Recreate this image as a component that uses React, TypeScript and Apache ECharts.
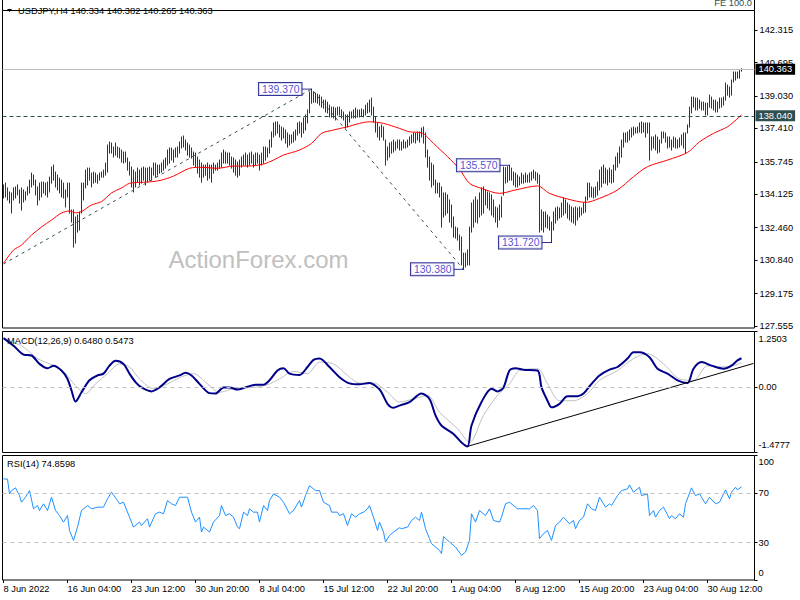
import React, { useEffect, useRef } from "react";
import * as echarts from "echarts";

// ---------- data ----------
const titleText = "USDJPY,H4 140.334 140.382 140.265 140.363";
const feText = "FE 100.0";
const watermarkText = "ActionForex.com";
const macdTitle = "MACD(12,26,9) 0.6480 0.5473";
const rsiTitle = "RSI(14) 74.8598";

const dateLabels = [
  "8 Jun 2022", "16 Jun 04:00", "23 Jun 12:00", "30 Jun 20:00", "8 Jul 04:00", "15 Jul 12:00",
  "22 Jul 20:00", "1 Aug 04:00", "8 Aug 12:00", "15 Aug 20:00", "23 Aug 04:00", "30 Aug 12:00",
];
const barsPerLabel = 32;
const emptyBarsRight = 6;

const priceTicks = [127.555, 129.175, 130.84, 132.46, 134.125, 135.745, 137.41, 139.03, 140.695, 142.315];
const priceMin = 127.455;
const priceMax = 143.29;

const highs = [
  134.59,134.68,134.44,134.24,134.19,134.44,134.49,134.59,134.34,134.44,
  134.34,134.24,134.49,134.83,135.18,135.08,134.83,134.49,134.68,134.73,
  134.73,134.68,134.73,134.98,135.48,135.58,135.23,135.08,134.93,134.83,
  134.68,134.34,134.68,134.68,133.34,133.34,132.99,133.09,133.24,134.68,
  134.68,135.33,135.43,135.43,135.18,135.23,135.18,135.08,135.18,135.23,
  135.33,135.68,136.58,136.73,136.68,136.48,136.68,136.48,136.43,136.33,
  136.23,136.23,135.93,135.73,135.48,135.33,135.23,135.43,135.33,135.43,
  135.48,135.43,135.43,135.48,135.43,135.68,135.68,135.58,135.58,135.68,
  135.83,135.93,136.33,136.43,136.43,136.33,136.43,136.48,136.73,136.98,
  137.03,136.83,136.68,136.58,136.43,136.23,136.18,135.98,135.83,135.68,
  135.58,135.58,135.68,135.58,135.58,135.68,135.58,135.68,135.83,136.18,
  136.33,136.23,136.18,136.18,135.98,135.93,135.83,135.73,135.83,135.98,
  136.08,136.18,136.08,136.18,136.23,136.08,136.18,136.18,136.08,136.18,
  136.48,136.48,136.43,136.83,137.23,137.68,137.73,137.73,137.58,137.48,
  137.43,137.33,137.18,137.08,137.08,137.23,137.33,137.68,137.73,137.68,
  137.93,138.08,138.33,139.22,139.37,139.22,139.17,139.12,139.07,138.97,
  138.82,138.82,138.72,138.57,138.47,138.47,138.42,138.47,138.47,138.33,
  138.23,138.08,138.08,138.23,138.23,138.33,138.42,138.33,138.33,138.38,
  138.33,138.57,138.67,138.82,138.92,138.47,137.98,137.68,137.48,137.58,
  137.48,136.83,136.48,136.68,136.73,136.83,136.73,136.83,136.83,136.73,
  136.83,136.73,136.83,136.98,137.08,137.18,137.18,137.23,137.23,137.43,
  137.48,137.18,136.33,135.98,135.68,135.58,134.83,134.68,134.68,134.49,
  134.19,134.19,134.09,133.84,133.59,132.99,132.49,132.44,132.09,131.99,
  131.19,131.19,131.34,132.49,133.69,133.84,133.99,133.84,134.19,134.44,
  134.49,134.34,134.24,134.19,134.09,133.84,133.49,133.44,133.59,133.99,
  135.48,135.45,135.5,135.57,135.43,135.23,135.18,135.08,134.98,135.18,
  135.08,135.18,135.08,135.18,135.23,135.33,135.23,135.18,135.08,133.34,
  133.24,133.24,133.09,132.99,132.74,133.24,133.44,133.49,133.44,133.69,
  133.94,133.84,133.69,133.59,133.49,133.44,133.49,133.44,133.49,133.44,
  133.69,133.99,134.68,134.68,134.49,134.44,134.49,134.73,135.33,135.48,
  135.58,135.43,135.33,135.43,135.33,135.58,135.98,136.18,136.48,136.83,
  137.18,137.18,137.23,137.33,137.43,137.48,137.43,137.48,137.68,137.73,
  137.68,137.68,137.68,137.68,136.98,136.98,137.08,136.98,136.83,137.23,
  137.23,137.18,136.98,136.98,136.83,136.98,136.93,136.83,136.93,137.08,
  137.18,137.18,137.58,138.47,138.97,138.97,138.92,138.92,138.82,138.72,
  138.72,138.67,138.67,139.07,138.97,138.82,138.82,138.72,138.92,138.92,
  138.97,139.67,139.57,139.47,139.82,140.22,140.22,140.22,140.32,140.382,
];
const lows = [
  133.94,133.99,133.84,133.69,133.19,133.84,133.94,134.09,133.69,133.34,
  133.74,133.84,134.09,134.19,134.49,134.59,134.09,133.59,133.84,133.99,
  134.19,134.09,133.99,134.24,134.68,134.83,134.49,134.34,134.19,133.99,
  133.94,133.49,133.99,133.19,132.74,131.49,131.69,132.24,132.34,133.19,
  133.84,134.44,134.59,134.83,134.49,134.68,134.73,134.68,134.83,134.98,
  134.98,135.08,135.23,136.18,136.18,135.98,136.08,135.98,135.93,135.73,
  135.68,135.73,135.33,135.08,134.49,134.24,134.49,134.73,134.59,134.68,
  134.83,134.59,134.73,134.83,134.83,135.08,134.98,135.08,135.18,135.23,
  135.33,135.43,135.58,135.68,135.83,135.73,135.98,135.98,136.18,136.43,
  136.48,136.33,136.08,135.98,135.93,135.58,135.48,135.18,134.98,134.73,
  134.98,135.08,134.83,134.93,134.73,135.18,135.33,135.33,135.43,135.48,
  135.68,135.68,135.68,135.58,135.43,135.23,135.08,134.98,135.08,135.48,
  135.58,135.58,135.48,135.58,135.68,135.48,135.58,135.68,135.33,135.58,
  135.68,135.83,135.98,136.18,136.48,136.98,137.08,137.18,136.98,136.83,
  136.93,136.68,136.48,136.58,136.68,136.73,136.83,137.08,137.18,136.98,
  137.18,137.33,137.68,138.18,138.67,138.72,138.72,138.67,138.57,138.47,
  138.42,138.23,138.18,137.98,137.98,137.93,137.83,138.08,138.08,137.93,
  137.83,137.43,137.48,137.73,137.93,137.93,137.93,137.98,137.98,138.03,
  137.98,138.08,138.18,138.23,138.08,137.73,137.23,136.98,136.83,136.98,
  136.83,135.58,135.83,135.98,136.18,136.23,136.33,136.43,136.33,136.33,
  136.43,136.43,136.48,136.58,136.68,136.73,136.68,136.83,136.73,136.98,
  136.68,135.98,135.48,134.83,134.49,134.59,134.19,134.19,133.99,132.49,
  132.99,133.09,133.19,132.74,132.49,131.99,131.94,131.84,131.34,130.6,
  130.38,130.5,130.6,130.6,132.24,132.49,132.74,132.69,132.99,133.09,
  133.19,133.59,133.44,133.34,133.09,132.99,132.74,132.49,132.84,132.99,
  134.09,134.68,134.73,134.83,134.83,134.59,134.49,134.49,134.59,134.68,
  134.68,134.73,134.73,134.73,134.83,134.93,134.83,134.68,132.24,132.34,
  132.24,132.49,132.44,132.34,131.72,132.34,132.69,132.84,132.94,132.99,
  133.09,133.19,132.94,132.84,132.74,132.69,132.59,132.84,132.99,133.09,
  133.19,133.24,133.84,133.99,133.99,133.94,133.99,134.09,134.34,134.49,
  134.68,134.68,134.59,134.73,134.68,134.73,135.33,135.48,135.68,135.98,
  136.48,136.73,136.73,136.83,136.98,137.08,137.18,137.18,137.23,137.18,
  137.23,136.98,137.18,135.83,136.33,136.43,136.33,136.18,136.23,136.68,
  136.93,136.73,136.43,136.48,136.33,136.48,136.43,136.43,136.48,136.58,
  136.43,136.18,137.18,137.48,138.18,138.47,138.33,138.33,138.42,138.33,
  138.33,138.08,138.08,138.47,138.42,138.33,138.23,138.23,138.42,138.47,
  138.57,138.82,139.07,138.97,139.07,139.72,139.82,139.92,139.92,140.265,
];

const maIndex = [0,5,9,14,19,24,29,33,36,39,44,49,54,59,63,69,74,79,85,93,99,107,115,122,130,135,140,148,154,159,165,172,178,183,190,198,203,209,215,222,228,233,239,248,256,267,273,282,291,298,307,315,322,332,342,348,355,362,369];
const maValue = [130.68,131.34,131.59,132.09,132.49,132.84,133.19,133.29,133.2,133.26,133.59,133.76,134.19,134.44,134.67,134.72,134.75,134.83,135.03,135.42,135.47,135.42,135.53,135.53,135.63,135.83,136.08,136.33,136.66,137.16,137.33,137.49,137.66,137.74,137.66,137.41,137.24,137.19,136.66,136.0,135.38,134.67,134.42,134.17,134.34,134.54,134.17,133.89,133.72,133.92,134.34,135.0,135.5,135.83,136.21,136.74,137.16,137.49,138.08];

const currentPrice = 140.363;
const levelPrice = 138.04;

const pivotIndex = [154, 253, 274, 230];
const pivotValue = [139.37, 135.57, 131.72, 130.38];

const feIndex = [0, 154, 230];
const feValue = [130.65, 139.37, 130.38];

const macdIndex = [0,5,10,14,18,22,25,29,32,34,36,39,43,47,50,53,56,60,63,66,69,74,78,83,88,91,94,98,103,106,110,113,117,121,126,130,133,137,140,143,148,152,155,158,163,168,173,178,183,187,189,192,195,198,203,209,213,216,219,225,229,232,234,239,244,247,250,253,256,260,267,269,272,274,278,282,287,290,294,298,303,307,312,315,318,323,327,332,337,342,345,349,354,360,364,367,369];
const macdValue = [1.1,0.93,0.73,0.71,0.52,0.42,0.48,0.37,0.18,-0.08,-0.33,-0.12,0.15,0.26,0.3,0.48,0.59,0.52,0.3,0.11,-0.01,-0.1,-0.01,0.18,0.26,0.32,0.26,0.07,-0.14,-0.15,-0.01,-0.01,-0.06,-0.01,0.05,0.05,0.15,0.37,0.42,0.3,0.27,0.45,0.61,0.64,0.45,0.22,0.08,0.06,0.09,-0.01,-0.12,-0.38,-0.47,-0.42,-0.34,-0.15,-0.27,-0.64,-0.87,-1.06,-1.25,-1.34,-0.87,-0.34,-0.04,-0.1,-0.01,0.37,0.42,0.39,0.37,-0.01,-0.31,-0.46,-0.38,-0.21,-0.21,-0.15,0.07,0.26,0.39,0.45,0.64,0.78,0.78,0.67,0.41,0.3,0.15,0.09,0.41,0.56,0.48,0.41,0.48,0.6,0.648];
const signalIndex = [1,9,17,25,31,36,41,46,52,58,63,68,75,82,88,95,102,108,115,125,132,138,145,152,158,165,172,178,185,192,198,205,212,218,227,233,240,247,253,258,267,272,278,285,292,298,307,315,322,330,338,345,352,358,365,369];
const signalValue = [1.05,0.93,0.64,0.48,0.3,0.03,-0.15,0.07,0.3,0.52,0.45,0.18,-0.04,0.07,0.21,0.3,0.07,-0.12,-0.04,-0.01,0.05,0.18,0.35,0.3,0.56,0.52,0.26,0.09,0.09,-0.12,-0.34,-0.27,-0.19,-0.57,-0.94,-1.25,-0.64,-0.19,0.07,0.37,0.41,0.07,-0.31,-0.31,-0.15,0.15,0.37,0.64,0.75,0.52,0.18,0.15,0.48,0.45,0.48,0.547];
const macdTrendIndex = [232, 375];
const macdTrendValue = [-1.34, 0.53];
const macdAxisValues = [-1.4777, 0, 1.2503];
const macdAxisLabels = ["-1.4777", "0.00", "1.2503"];

const rsiIndex = [
  0,2,3,4,6,8,9,11,13,15, 17,18,20,22,24,26,28,30,32,33, 35,37,39,42,44,47,50,52,54,57,
  58,60,63,65,68,69,72,73,76,78, 80,82,84,86,88,92,94,96,98,99, 100,103,105,108,109,111,113,115,117,118,
  120,122,123,125,127,128,130,132,133,135, 138,140,143,145,148,149,151,153,156,158,
  160,163,164,167,168,170,172,174,176,178, 180,182,183,185,187,188,190,191,193,195,
  198,199,202,204,206,208,209,211,213,214, 216,218,219,220,223,226,229,231,233,234,
  236,238,241,243,245,248,249,251,253,257, 259,263,265,267,268,270,272,274,276,278,
  280,283,285,286,288,290,292,294,296,298, 301,303,304,307,309,312,313,315,318,319,
  322,323,325,326,328,330,333,334,336,338, 340,341,344,346,348,351,353,356,358,361,
  363,364,366,367,369,
];
const rsiValue = [
  81.2,81,69.2,71.8,74,67.8,62.5,66.5,71.8,57.2, 59.8,55.8,61.2,55.8,66.5,55.8,51.8,46.5,51.8,39.8,
  31.8,42.5,55.8,59.8,57.2,58.5,58.5,65.2,70.5,63.8, 61.2,62.5,50.5,42.5,46.5,43.8,49.2,42.5,53.2,54.5,
  53.2,63.8,61.2,59.8,66.5,66.5,54.5,46.5,50.5,38.5, 42.5,38.5,46.5,51.8,59.8,51.8,53.2,50.5,42.5,41.2,
  54.5,51.8,57.2,54.5,54.5,46.5,59.8,55.8,63.8,69.2, 66.5,62.5,53.2,55.8,63.8,58.5,67.8,75.8,71.8,71.8,
  62.5,59.8,54.5,54.5,51.8,53.2,43.8,53.2,50.5,53.2, 54.5,57.2,59.8,50.5,39.8,46.5,38.5,30.5,35.8,38.5,
  42,41.2,42.5,47.8,50.5,47.8,54.5,41.2,33.2,29.2, 26.5,23.8,21.2,35,30.5,26.5,19.8,22.5,31.8,53.2,
  46.5,55.8,51.8,57.2,47.8,46.5,50.5,61.2,62.5,57.2, 57.2,57.2,59.8,55.8,33.2,37.2,39.8,31.8,43.8,46.5,
  50.5,45.2,47.8,41.2,47.8,50.5,61.2,57.2,55.8,66.5, 58.5,61.2,59.8,67.8,71.8,73.2,76.4,70.5,74.5,67.8,
  69.2,51.8,55.8,50.5,55.8,58.5,49.2,51.8,49.2,53.2, 50.5,61.2,74,67.8,69.2,61.2,66.5,61.2,62.5,72.4,
  65.2,70.5,74.5,72.4,74.86,
];
const rsiTicks = [0, 30, 70, 100];
const rsiLevels = [30, 70];

// ---------- styles ----------
const FONT = "Liberation Sans";
const FS = 9.3;
const BAR = "#123d5c";
const pair = (idx: number[], vals: number[]) => idx.map((x, k) => [x, vals[k]]);

export default function App() {
  const ref = useRef<HTMLDivElement>(null);

  useEffect(() => {
    if (!ref.current) return;
    const chart = echarts.init(ref.current, undefined, { renderer: "svg" });
    const n = highs.length;
    const cats = Array.from({ length: n + emptyBarsRight }, (_, i) => String(i));
    const showDate = (i: number) => i % barsPerLabel === 0 && i / barsPerLabel < dateLabels.length;
    const txt = { fontFamily: FONT, fontSize: FS, color: "#000" };
    const grids = [
      { left: 2.5, top: 10.5, width: 752, height: 317.5 },
      { left: 2.5, top: 331.5, width: 752, height: 121 },
      { left: 2.5, top: 455.5, width: 752, height: 124.5 },
    ].map((g) => ({ ...g, show: true, borderColor: "#000", borderWidth: 1, backgroundColor: "transparent" }));

    const hiddenX = (gi: number) => ({ type: "category", gridIndex: gi, data: cats, show: false });
    const edgeLabel = (vals: number[], labels: string[], padTop: number, padBottom: number) => ({
      customValues: vals,
      margin: 4,
      ...txt,
      formatter: (v: number) => {
        let k = 0;
        vals.forEach((w, j) => { if (Math.abs(w - v) < Math.abs(vals[k] - v)) k = j; });
        const s = labels[k];
        if (k === vals.length - 1) return `{t|${s}}`;
        if (k === 0) return `{b|${s}}`;
        return `{m|${s}}`;
      },
      rich: {
        t: { ...txt, padding: [padTop, 0, 0, 0] },
        b: { ...txt, padding: [0, 0, padBottom, 0] },
        m: { ...txt },
      },
    });

    const option: any = {
      animation: false,
      backgroundColor: "#fff",
      grid: grids,
      xAxis: [
        hiddenX(0),
        hiddenX(1),
        {
          type: "category",
          gridIndex: 2,
          data: cats,
          axisLine: { show: false },
          axisTick: { show: true, alignWithLabel: true, interval: (i: number) => showDate(i), length: 3, lineStyle: { color: "#000" } },
          axisLabel: {
            show: true,
            interval: (i: number) => showDate(i),
            formatter: (v: string) => dateLabels[Number(v) / barsPerLabel],
            align: "left",
            margin: 4,
            ...txt,
          },
          splitLine: { show: false },
        },
      ],
      yAxis: [
        {
          type: "value", gridIndex: 0, position: "right", min: priceMin, max: priceMax,
          splitLine: { show: false }, axisLine: { show: false },
          axisTick: { show: true, customValues: priceTicks, length: 3, lineStyle: { color: "#000" } },
          axisLabel: { customValues: priceTicks, formatter: (v: number) => v.toFixed(3), margin: 5, ...txt },
        },
        {
          type: "value", gridIndex: 1, position: "right", min: macdAxisValues[0], max: macdAxisValues[2],
          splitLine: { show: false }, axisLine: { show: false },
          axisTick: { show: true, customValues: macdAxisValues, length: 3, lineStyle: { color: "#000" } },
          axisLabel: edgeLabel(macdAxisValues, macdAxisLabels, 14, 15),
        },
        {
          type: "value", gridIndex: 2, position: "right", min: 0, max: 100,
          splitLine: { show: false }, axisLine: { show: false },
          axisTick: { show: true, customValues: rsiTicks, length: 3, lineStyle: { color: "#000" } },
          axisLabel: edgeLabel(rsiTicks, rsiTicks.map(String), 13, 14),
        },
      ],
      series: [
        {
          name: "bars",
          type: "custom",
          xAxisIndex: 0,
          yAxisIndex: 0,
          data: highs.map((h, i) => [i, lows[i], h]),
          encode: { x: 0, y: [1, 2] },
          renderItem: (_p: any, api: any) => {
            const lo = api.coord([api.value(0), api.value(1)]);
            const hi = api.coord([api.value(0), api.value(2)]);
            return {
              type: "line",
              shape: { x1: lo[0], y1: lo[1] + 0.5, x2: hi[0], y2: hi[1] - 0.5 },
              style: { stroke: BAR, lineWidth: 1 },
            };
          },
          z: 2,
        },
        {
          name: "fe",
          type: "line",
          xAxisIndex: 0,
          yAxisIndex: 0,
          data: pair(feIndex, feValue),
          showSymbol: false,
          lineStyle: { color: "#2f4f4f", width: 1, type: [3, 4] },
          z: 3,
        },
        {
          name: "ma",
          type: "line",
          xAxisIndex: 0,
          yAxisIndex: 0,
          data: pair(maIndex, maValue),
          showSymbol: false,
          smooth: 0.3,
          lineStyle: { color: "#ff0000", width: 1 },
          z: 4,
          markLine: {
            silent: true,
            symbol: ["none", "none"],
            data: [
              {
                yAxis: currentPrice,
                lineStyle: { color: "#c0c0c0", type: "solid", width: 1 },
                label: {
                  show: true, position: "end", distance: 1, formatter: currentPrice.toFixed(3),
                  fontFamily: FONT, fontSize: FS, color: "#fff", backgroundColor: "#000",
                  padding: [1, 3, 0, 3], lineHeight: 10,
                },
              },
              {
                yAxis: levelPrice,
                lineStyle: { color: "#2f4f4f", type: [4, 3], width: 1 },
                label: {
                  show: true, position: "end", distance: 1, formatter: levelPrice.toFixed(3),
                  fontFamily: FONT, fontSize: FS, color: "#fff", backgroundColor: "#2f4f4f",
                  padding: [1, 3, 0, 3], lineHeight: 10,
                },
              },
            ],
          },
        },
        {
          name: "pivots",
          type: "scatter",
          xAxisIndex: 0,
          yAxisIndex: 0,
          data: pair(pivotIndex, pivotValue),
          symbol: "rect",
          symbolSize: [10, 1],
          symbolOffset: [-5, 0],
          itemStyle: { color: "#000080" },
          label: {
            show: true, position: "left", distance: 0,
            formatter: (p: any) => Number(p.value[1]).toFixed(3),
            fontFamily: FONT, fontSize: 10.4, color: "#2222c8", lineHeight: 11,
            backgroundColor: "#fff", borderColor: "#000080", borderWidth: 1, padding: [1, 2, 0, 3],
          },
          z: 6,
        },
        {
          name: "signal",
          type: "line",
          xAxisIndex: 1,
          yAxisIndex: 1,
          data: pair(signalIndex, signalValue),
          showSymbol: false,
          smooth: 0.3,
          lineStyle: { color: "#c0c0c0", width: 1 },
          z: 2,
          markLine: {
            silent: true,
            symbol: ["none", "none"],
            label: { show: false },
            lineStyle: { color: "#c0c0c0", type: [4, 4], width: 1 },
            data: [{ yAxis: 0 }],
          },
        },
        {
          name: "macd",
          type: "line",
          xAxisIndex: 1,
          yAxisIndex: 1,
          data: pair(macdIndex, macdValue),
          showSymbol: false,
          smooth: 0.3,
          lineStyle: { color: "#00008b", width: 2 },
          z: 3,
        },
        {
          name: "macdTrend",
          type: "line",
          xAxisIndex: 1,
          yAxisIndex: 1,
          data: pair(macdTrendIndex, macdTrendValue),
          showSymbol: false,
          lineStyle: { color: "#000", width: 1 },
          z: 4,
        },
        {
          name: "rsi",
          type: "line",
          xAxisIndex: 2,
          yAxisIndex: 2,
          data: pair(rsiIndex, rsiValue),
          showSymbol: false,
          lineStyle: { color: "#1e90ff", width: 1 },
          z: 3,
          markLine: {
            silent: true,
            symbol: ["none", "none"],
            label: { show: false },
            lineStyle: { color: "#c0c0c0", type: [4, 4], width: 1 },
            data: rsiLevels.map((v) => ({ yAxis: v })),
          },
        },
      ],
      graphic: [
        { type: "line", shape: { x1: 2.5, y1: 0, x2: 2.5, y2: 10.5 }, style: { stroke: "#000", lineWidth: 1 }, silent: true },
        { type: "line", shape: { x1: 754.5, y1: 0, x2: 754.5, y2: 10.5 }, style: { stroke: "#000", lineWidth: 1 }, silent: true },
        { type: "polygon", shape: { points: [[7, 9], [12, 9], [9.5, 12]] }, style: { fill: "#000" }, silent: true },
        {
          type: "text", x: 18, y: 11, silent: true, z: 10,
          style: { text: titleText, font: `${FS}px "${FONT}"`, fill: "#000", textAlign: "left", textVerticalAlign: "middle" },
        },
        {
          type: "text", x: 752, y: 3, silent: true, z: 10,
          style: { text: feText, font: `${FS}px "${FONT}"`, fill: "#2f4f4f", textAlign: "right", textVerticalAlign: "middle" },
        },
        {
          type: "text", x: 258.5, y: 259, silent: true, z: -1,
          style: { text: watermarkText, font: `24px "${FONT}"`, fill: "#c0c0c0", textAlign: "center", textVerticalAlign: "middle" },
        },
        {
          type: "text", x: 7, y: 340.5, silent: true, z: 10,
          style: { text: macdTitle, font: `${FS}px "${FONT}"`, fill: "#000", textAlign: "left", textVerticalAlign: "middle" },
        },
        {
          type: "text", x: 7, y: 464, silent: true, z: 10,
          style: { text: rsiTitle, font: `${FS}px "${FONT}"`, fill: "#000", textAlign: "left", textVerticalAlign: "middle" },
        },
      ],
    };
    chart.setOption(option);
    return () => chart.dispose();
  }, []);

  return (
    <div
      ref={ref}
      style={{ position: "absolute", left: 0, top: 0, width: 800, height: 600, background: "#fff" }}
    />
  );
}
